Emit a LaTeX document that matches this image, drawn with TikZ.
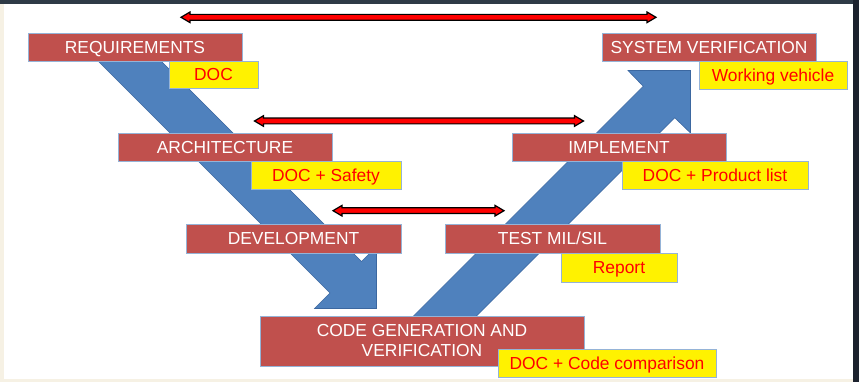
\documentclass[tikz,border=0pt]{standalone}
\usepackage{fontspec}
\setmainfont{Liberation Sans}
\definecolor{boxred}{HTML}{C0504D}
\definecolor{boxedge}{HTML}{95B3D7}
\definecolor{vblue}{HTML}{4F81BD}
\definecolor{vblueedge}{HTML}{3B67A0}
\definecolor{topdark}{HTML}{2E3A46}
\definecolor{rightdark}{HTML}{1C222E}
\definecolor{cream}{HTML}{F6F1E4}
\tikzset{
  lbl/.style={font=\fontsize{17.4}{20}\selectfont, inner sep=0pt, text height=12.4pt, text depth=0pt},
  rbox/.style={lbl, fill=boxred, draw=boxedge, line width=0.8pt, text=white},
  ybox/.style={lbl, fill=yellow, draw=boxedge, line width=0.8pt, text=red},
  vshape/.style={fill=vblue, draw=vblueedge, line width=0.6pt, line join=miter},
  redarrow/.style={fill=red, draw=black, line width=1.2pt, line join=miter}
}
\begin{document}
\begin{tikzpicture}[x=1pt,y=-1pt]
% frame
\fill[white] (0,0) rectangle (859,382);
\useasboundingbox (0,0) rectangle (859,382);
\fill[cream] (0,0) rectangle (4,382);
\fill[cream] (0,379) rectangle (859,382);
\fill[topdark] (0,0) rectangle (859,4);
\fill[rightdark] (853,0) rectangle (859,382);

% blue V arrows
\draw[vshape] (82,45) -- (145,45) -- (361.5,261.5) -- (376.5,246.5) -- (376.5,308.5)
   -- (314.5,308.5) -- (330,293) -- cycle;
\draw[vshape] (394.5,335) -- (457.5,335) -- (674.75,117.75) -- (690.5,133) -- (690.5,70.5)
   -- (628,70.5) -- (643.25,86.25) -- (394.5,335) -- cycle;

% red boxes
\node[rbox, minimum width=214pt, minimum height=28pt] (req) at (135,47) {REQUIREMENTS};
\node[rbox, minimum width=214pt, minimum height=28pt] (arch) at (225,147) {ARCHITECTURE};
\node[rbox, minimum width=215pt, minimum height=29pt] (dev) at (293.5,238.5) {DEVELOPMENT};
\node[rbox, minimum width=214pt, minimum height=28pt] (sysv) at (709,47) {SYSTEM VERIFICATION};
\node[rbox, minimum width=214pt, minimum height=28pt] (impl) at (619,147) {IMPLEMENT};
\node[rbox, minimum width=215pt, minimum height=29pt] (test) at (552.5,238.5) {TEST MIL/SIL};
\node[rbox, minimum width=324pt, minimum height=50pt, align=center, text height=, text depth=]
   (code) at (422,341) {CODE GENERATION AND\\VERIFICATION};

% yellow boxes
\node[ybox, minimum width=89pt, minimum height=27pt] (doc1) at (213.5,74.5) {DOC};
\node[ybox, minimum width=150pt, minimum height=28pt] (doc2) at (326,175) {DOC + Safety};
\node[ybox, minimum width=148pt, minimum height=28pt] (wv) at (773,75) {Working vehicle};
\node[ybox, minimum width=186pt, minimum height=28pt] (pl) at (715,175) {DOC + Product list};
\node[ybox, minimum width=116pt, minimum height=29pt] (rep) at (619,267.5) {Report};
\node[ybox, minimum width=218pt, minimum height=28pt] (cc) at (607,363) {DOC + Code comparison};

% red double arrows
\foreach \xa/\xb/\yc in {181/656/17.3, 254.5/583.5/121, 333/504/210.7}{
  \draw[redarrow] (\xa,\yc) -- (\xa+9,\yc-5.3) -- (\xa+9,\yc-2.9) -- (\xb-9,\yc-2.9) -- (\xb-9,\yc-5.3)
     -- (\xb,\yc) -- (\xb-9,\yc+5.3) -- (\xb-9,\yc+2.9) -- (\xa+9,\yc+2.9) -- (\xa+9,\yc+5.3) -- cycle;
}
\end{tikzpicture}
\end{document}
